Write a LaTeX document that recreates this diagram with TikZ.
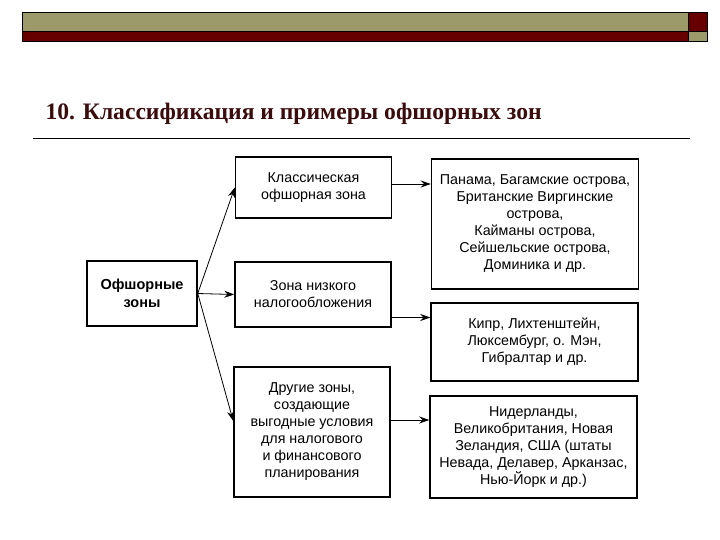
\documentclass[tikz,border=0pt]{standalone}
\usepackage{fontspec}
\setmainfont{Liberation Sans}
\newfontfamily\titlefont{Liberation Serif}
\usetikzlibrary{arrows.meta,positioning}
\definecolor{barolive}{RGB}{156,154,106}
\definecolor{barred}{RGB}{102,0,0}
\definecolor{titlered}{RGB}{58,12,12}

\begin{document}
\begin{tikzpicture}[x=1pt,y=-1pt]
\tikzstyle{every node}=[font=\fontsize{14.3}{17}\selectfont]
\tikzstyle{box}=[draw, line width=1.5pt, fill=white, align=center, inner sep=2pt]
\tikzstyle{arr}=[-{Stealth[length=10pt,width=7pt]}, line width=0.8pt]
\useasboundingbox (0,0) rectangle (720,540);
\draw [fill=barolive, line width=0.6pt] (22,12) rectangle (688,31);
\draw [fill=barred, line width=0.6pt] (22,31) rectangle (688,41);
\draw [fill=barred, line width=0.6pt] (688,12) rectangle (707,31);
\draw [fill=barolive, line width=0.6pt] (688,31) rectangle (707,41);
\node[anchor=base west, text=titlered, font=\titlefont\bfseries\fontsize{23.6}{28}\selectfont] (title) at (42,120) {10. Классификация и примеры офшорных зон};
\draw [line width=0.8pt] (33,138) -- (690,138);
\node[box, minimum width=110pt, minimum height=65pt, font=\bfseries\fontsize{14.5}{18}\selectfont] (off) at (142,293.5) {Офшорные\\ зоны};
\node[box, minimum width=156pt, minimum height=61pt] (klass) at (313.5,187.5) {Классическая\\ офшорная зона};
\node[box, minimum width=156pt, minimum height=65pt] (nizk) at (313,294.5) {Зона низкого\\ налогообложения};
\node[box, minimum width=156pt, minimum height=130pt] (drug) at (312,432) {Другие зоны,\\ создающие\\ выгодные условия\\ для налогового\\ и финансового\\ планирования};
\node[box, minimum width=207pt, minimum height=130pt] (r1) at (535,224) {Панама, Багамские острова,\\ Британские Виргинские\\ острова,\\ Кайманы острова,\\ Сейшельские острова,\\ Доминика и др.};
\node[box, minimum width=207pt, minimum height=78pt] (r2) at (534.5,342) {Кипр, Лихтенштейн,\\ Люксембург, о. Мэн,\\ Гибралтар и др.};
\node[box, minimum width=207pt, minimum height=102pt] (r3) at (533.5,447) {Нидерланды,\\ Великобритания, Новая\\ Зеландия, США (штаты\\ Невада, Делавер, Арканзас,\\ Нью-Йорк и др.)};
\draw [arr] (off.east) -- (klass.west);
\draw [arr] (off.east) -- (nizk.west);
\draw [arr] (off.east) -- ([yshift=11pt]drug.west);
\draw [arr] ([yshift=3.5pt]klass.east) -- ([yshift=3.5pt]klass.east -| r1.west);
\draw [arr] ([yshift=-23pt]nizk.east) -- ([yshift=-23pt]nizk.east -| r2.west);
\draw [arr] ([yshift=12pt]drug.east) -- ([yshift=12pt]drug.east -| r3.west);
\end{tikzpicture}
\end{document}
